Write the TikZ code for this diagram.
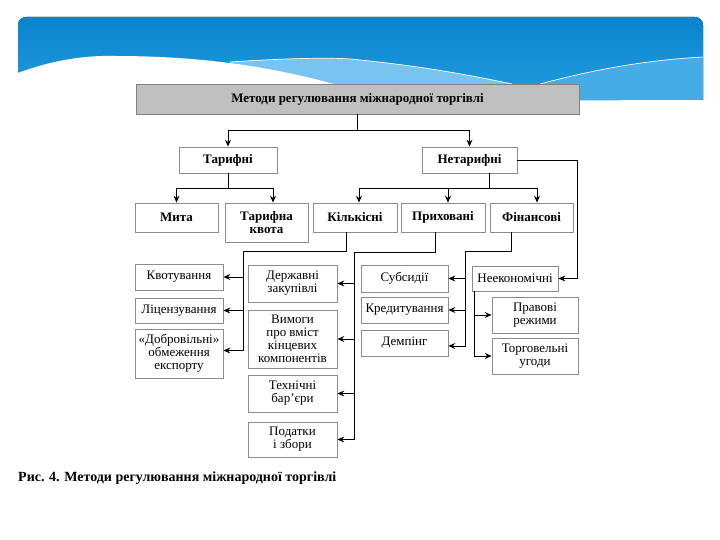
\documentclass[tikz,border=0pt]{standalone}
\usepackage{fontspec}
\setmainfont{Liberation Serif}
\usetikzlibrary{arrows.meta,calc}
\definecolor{hdtop}{RGB}{8,132,204}
\definecolor{hdbot}{RGB}{44,164,230}
\definecolor{hdlight}{RGB}{120,196,240}
\definecolor{hdmid}{RGB}{70,172,232}
\definecolor{boxgray}{RGB}{140,140,140}
\definecolor{topfill}{RGB}{192,192,192}
\begin{document}
\begin{tikzpicture}[x=1pt,y=-1pt,
  box/.style={draw=boxgray, fill=white, line width=0.8pt, align=center, inner sep=1pt,
    font=\fontsize{13}{13}\selectfont},
  bbox/.style={box, font=\fontsize{13}{13}\selectfont\bfseries},
  conn/.style={draw=black, line width=0.9pt},
  arr/.style={conn, -{Stealth[length=7pt,width=6pt,inset=2.5pt]}}]
\useasboundingbox (0,0) rectangle (720,540);
% ---- slide header ----
\fill[top color=hdtop, bottom color=hdbot, rounded corners=8pt] (18,17) rectangle (703,125);
\fill[hdlight] (230,62) .. controls (290,58) and (340,57) .. (360,60) .. controls (420,66) and (470,75) .. (512,84) -- (512,125) -- (230,125) -- cycle;
\fill[hdmid] (540,84) .. controls (600,68) and (650,60) .. (703,57) -- (703,125) -- (540,125) -- cycle;
\draw[white, line width=0.7pt] (230,62) .. controls (290,58) and (340,57) .. (360,60) .. controls (420,66) and (470,75) .. (512,84);
\draw[white, line width=0.7pt] (540,84) .. controls (600,68) and (650,60) .. (703,57);
\fill[white] (10,76) .. controls (45,62) and (80,55) .. (115,56) .. controls (190,56) and (260,64) .. (330,83) .. controls (420,104) and (560,100) .. (712,100) -- (712,140) -- (10,140) -- cycle;
% ---- boxes ----
\node[bbox, fill=topfill, draw=gray, minimum width=443pt, minimum height=30pt] (top) at (357.5,99) {Методи регулювання міжнародної торгівлі};
\node[bbox, minimum width=98pt, minimum height=26pt] (tar) at (228,160) {Тарифні};
\node[bbox, minimum width=95pt, minimum height=26pt] (netar) at (469.5,160) {Нетарифні};
\node[bbox, minimum width=83pt, minimum height=29pt] (myta) at (176.5,217.5) {Мита};
\node[bbox, minimum width=83pt, minimum height=39pt] (tkv) at (266.5,222.5) {Тарифна\\квота};
\node[bbox, minimum width=84pt, minimum height=29pt] (kil) at (355,217.5) {Кількісні};
\node[bbox, minimum width=84pt, minimum height=29pt] (pryh) at (443,217.5) {Приховані};
\node[bbox, minimum width=83pt, minimum height=29pt] (fin) at (531.5,217.5) {Фінансові};
\node[box, minimum width=88pt, minimum height=26pt] (kvot) at (179,277) {Квотування};
\node[box, minimum width=88pt, minimum height=25pt] (lic) at (179,310.5) {Ліцензування};
\node[box, minimum width=88pt, minimum height=49pt] (dobr) at (179,353.5) {«Добровільні»\\обмеження\\експорту};
\node[box, minimum width=89pt, minimum height=37pt] (derzh) at (292.5,283.5) {Державні\\закупівлі};
\node[box, minimum width=89pt, minimum height=58pt] (vym) at (292.5,339) {Вимоги\\про вміст\\кінцевих\\компонентів};
\node[box, minimum width=89pt, minimum height=37pt] (tech) at (292.5,393.5) {Технічні\\бар’єри};
\node[box, minimum width=89pt, minimum height=35pt] (pod) at (292.5,439.5) {Податки\\і збори};
\node[box, minimum width=87pt, minimum height=27pt] (sub) at (404.5,278.5) {Субсидії};
\node[box, minimum width=87pt, minimum height=26pt] (kred) at (404.5,310) {Кредитування};
\node[box, minimum width=87pt, minimum height=26pt] (demp) at (404.5,343) {Демпінг};
\node[box, minimum width=86pt, minimum height=25pt] (neek) at (515,278.5) {Неекономічні};
\node[box, minimum width=86pt, minimum height=36pt] (prav) at (535,315) {Правові\\режими};
\node[box, minimum width=86pt, minimum height=36pt] (torg) at (535,356) {Торговельні\\угоди};
\node[anchor=west, inner sep=0pt, font=\fontsize{14}{16}\selectfont\bfseries] (cap) at (18,478) {Рис. 4. Методи регулювання міжнародної торгівлі};
% ---- connectors ----
\coordinate (j1) at ($(top.south)+(0,16)$);
\draw[conn] (top.south) -- (j1);
\draw[arr] (j1) -| (tar.north);
\draw[arr] (j1) -| (netar.north);
\coordinate (j2) at ($(tar.south)+(0,15)$);
\draw[conn] (tar.south) -- (j2);
\draw[arr] (j2) -| (myta.north);
\draw[arr] (j2) -| ([xshift=6.5pt]tkv.north);
\coordinate (j3) at (489,188);
\draw[conn] (netar.south -| j3) -- (j3);
\draw[arr] (j3) -| ([xshift=4pt]kil.north);
\draw[arr] (j3) -| ([xshift=5pt]pryh.north);
\draw[arr] (j3) -| ([xshift=5.5pt]fin.north);
\coordinate (nr) at (577,160);
\draw[arr] (netar.east) -- (nr) |- (neek.east);
% Kilkisni
\coordinate (k1) at (346,251);
\coordinate (k2) at (243,251);
\draw[conn] (kil.south -| k1) -- (k1) -- (k2);
\draw[arr] (k2) |- (kvot.east);
\draw[arr] (k2) |- (lic.east);
\draw[arr] (k2) |- ([yshift=3pt]dobr.east);
% Pryhovani
\coordinate (p1) at (435,252);
\coordinate (p2) at (354,252);
\draw[conn] (pryh.south -| p1) -- (p1) -- (p2);
\draw[arr] (p2) |- (derzh.east);
\draw[arr] (p2) |- (vym.east);
\draw[arr] (p2) |- (tech.east);
\draw[arr] (p2) |- (pod.east);
% Finansovi
\coordinate (f1) at (511,251);
\coordinate (f2) at (465,251);
\draw[conn] (fin.south -| f1) -- (f1) -- (f2);
\draw[arr] (f2) |- (sub.east);
\draw[arr] (f2) |- (kred.east);
\draw[arr] (f2) |- ([yshift=-3pt]demp.east);
% Neekonomichni
\coordinate (nx) at (474,0);
\draw[arr] (neek.south -| nx) |- (prav.west);
\draw[arr] (neek.south -| nx) |- (torg.west);
\end{tikzpicture}
\end{document}
